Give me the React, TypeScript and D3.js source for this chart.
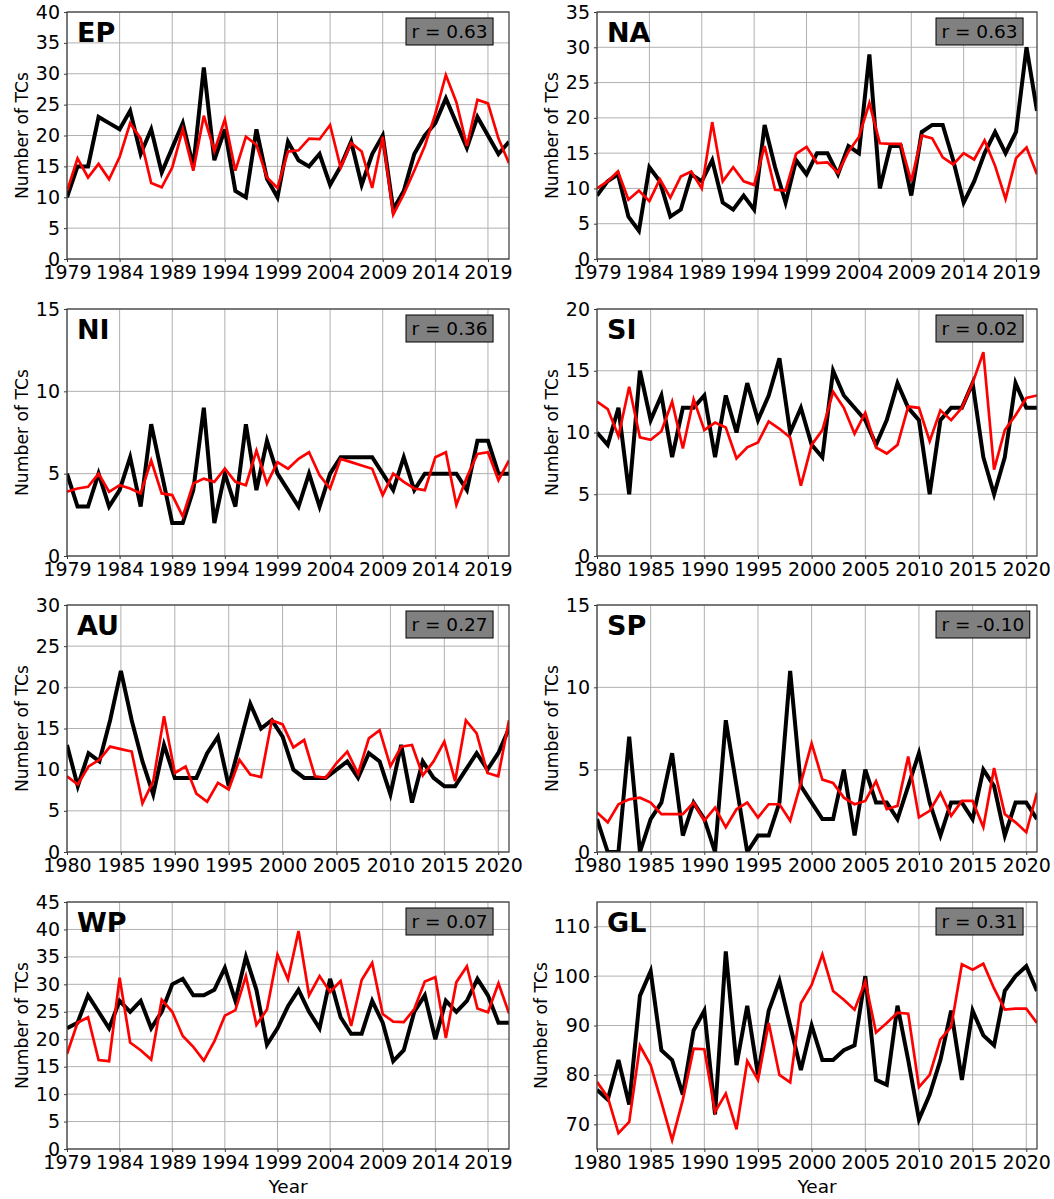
import React, { useEffect, useRef } from "react";
import * as d3 from "d3";

// observed (black) and modelled (red) TC counts per basin
const epObs = [10, 15, 15, 23, 22, 21, 24, 17, 21, 14, 18, 22, 15, 31, 16, 21, 11, 10, 21, 13, 10, 19, 16, 15, 17, 12, 15, 19, 12, 17, 20, 8, 11, 17, 20, 22, 26, 22, 18, 23, 20, 17, 19];
const epMod = [11, 16.3, 13.2, 15.4, 12.9, 16.5, 22, 19.5, 12.3, 11.6, 14.8, 21, 14.3, 23.2, 17.5, 22.6, 14.3, 19.8, 18.5, 13.2, 11.5, 17.4, 17.6, 19.5, 19.4, 21.7, 14.8, 18.8, 17.4, 11.5, 19.8, 7.2, 10.5, 14.3, 18.3, 23.5, 29.8, 25.4, 18.3, 25.8, 25.2, 19.5, 15.5];

const naObs = [9, 11, 12, 6, 4, 13, 11, 6, 7, 12, 11, 14, 8, 7, 9, 7, 19, 13, 8, 14, 12, 15, 15, 12, 16, 15, 29, 10, 16, 16, 9, 18, 19, 19, 14, 8, 11, 15, 18, 15, 18, 30, 21];
const naMod = [10, 11, 12.4, 8.4, 9.7, 8.2, 11.3, 8.7, 11.7, 12.4, 10, 19.4, 11, 13, 11, 10.5, 16, 9.8, 9.7, 14.9, 15.9, 13.6, 13.7, 12.2, 15.2, 17.3, 22.1, 16.4, 16.3, 16.3, 11, 17.5, 17.1, 14.4, 13.4, 15, 14.1, 16.8, 13.2, 8.5, 14.3, 15.8, 12];

const niObs = [5, 3, 3, 5, 3, 4, 6, 3, 8, 5, 2, 2, 4, 9, 2, 5, 3, 8, 4, 7, 5, 4, 3, 5, 3, 5, 6, 6, 6, 6, 5, 4, 6, 4, 5, 5, 5, 5, 4, 7, 7, 5, 5];
const niMod = [3.9, 4.1, 4.2, 5, 3.9, 4.3, 4.1, 3.8, 5.8, 3.8, 3.7, 2.4, 4.4, 4.7, 4.5, 5.3, 4.5, 4.3, 6.4, 4.4, 5.7, 5.3, 5.9, 6.3, 4.9, 4.1, 5.9, 5.7, 5.5, 5.3, 3.7, 5, 4.5, 4.1, 4, 6, 6.3, 3.1, 4.8, 6.2, 6.3, 4.6, 5.8];

const siObs = [10, 9, 12, 5, 15, 11, 13, 8, 12, 12, 13, 8, 13, 10, 14, 11, 13, 16, 10, 12, 9, 8, 15, 13, 12, 11, 9, 11, 14, 12, 11, 5, 11, 12, 12, 14, 8, 5, 8, 14, 12, 12];
const siMod = [12.5, 11.9, 9.7, 13.7, 9.6, 9.4, 10.1, 12.5, 8.7, 12.7, 10.2, 10.8, 10.4, 7.9, 8.8, 9.2, 10.9, 10.3, 9.6, 5.7, 9, 10.2, 13.3, 12, 9.9, 11.6, 8.8, 8.3, 9, 12.1, 12, 9.3, 11.8, 11, 12, 14, 16.5, 7, 10.2, 11.4, 12.8, 13];

const auObs = [13, 8, 12, 11, 16, 22, 16, 11, 7, 13, 9, 9, 9, 12, 14, 8, 13, 18, 15, 16, 14, 10, 9, 9, 9, 10, 11, 9, 12, 11, 7, 13, 6, 11, 9, 8, 8, 10, 12, 10, 12, 15];
const auMod = [9.2, 8.2, 10.4, 11.2, 12.8, 12.5, 12.2, 5.9, 8.6, 16.5, 9.6, 10.4, 7.1, 6.1, 8.4, 7.6, 11.2, 9.4, 9.1, 16, 15.5, 12.7, 13.6, 9.2, 9, 10.8, 12.2, 9.5, 13.8, 14.8, 10.4, 12.8, 13, 9.3, 11, 13.4, 8.6, 16, 14.4, 9.6, 9.2, 16];

const spObs = [2, 0, 0, 7, 0, 2, 3, 6, 1, 3, 2, 0, 8, 4, 0, 1, 1, 3, 11, 4, 3, 2, 2, 5, 1, 5, 3, 3, 2, 4, 6, 3, 1, 3, 3, 2, 5, 4, 1, 3, 3, 2];
const spMod = [2.4, 1.8, 2.9, 3.2, 3.3, 3, 2.3, 2.3, 2.3, 3, 1.9, 2.7, 1.5, 2.6, 3, 2.1, 2.9, 2.9, 1.9, 4.2, 6.6, 4.4, 4.2, 3.3, 2.9, 3.1, 4.3, 2.6, 2.8, 5.8, 2.1, 2.5, 3.6, 2.2, 3.1, 3.1, 1.5, 5.1, 2.3, 1.8, 1.2, 3.6];

const wpObs = [22, 23, 28, 25, 22, 27, 25, 27, 22, 25, 30, 31, 28, 28, 29, 33, 27, 35, 29, 19, 22, 26, 29, 25, 22, 31, 24, 21, 21, 27, 23, 16, 18, 25, 28, 20, 27, 25, 27, 31, 28, 23, 23];
const wpMod = [17.3, 23, 24, 16.2, 16, 31.2, 19.4, 18, 16.3, 27.2, 25, 20.6, 18.6, 16.1, 19.6, 24.3, 25.3, 31.5, 22.6, 25.4, 35.4, 30.9, 39.7, 28, 31.5, 28.6, 30.6, 22.4, 30.8, 33.9, 24.6, 23.2, 23.1, 25.5, 30.5, 31.3, 20.2, 30.4, 33.3, 25.6, 24.9, 30.2, 24.7];

const glObs = [77, 75, 83, 74, 96, 101, 85, 83, 76, 89, 93, 72, 105, 82, 94, 80, 93, 99, 90, 81, 90, 83, 83, 85, 86, 100, 79, 78, 94, 83, 71, 76, 83, 93, 79, 93, 88, 86, 97, 100, 102, 97];
const glMod = [78.6, 75.5, 68.2, 70.5, 85.9, 82, 74.5, 66.8, 75, 85.3, 85.2, 72.5, 76.2, 69, 82.8, 79, 90.5, 80, 78.5, 94.5, 98.2, 104.4, 97, 95.2, 93.2, 98.9, 88.6, 90.5, 92.6, 92.4, 77.5, 80, 87.2, 89.7, 102.4, 101.3, 102.5, 97.5, 93.2, 93.4, 93.4, 90.5];

const basinNames = ["EP", "NA", "NI", "SI", "AU", "SP", "WP", "GL"];
const corrLabels = ["r = 0.63", "r = 0.63", "r = 0.36", "r = 0.02", "r = 0.27", "r = -0.10", "r = 0.07", "r = 0.31"];
const startYears = [1979, 1979, 1979, 1980, 1980, 1980, 1979, 1980];
const yDomains: [number, number][] = [[0, 40], [0, 35], [0, 15], [0, 20], [0, 30], [0, 15], [0, 45], [65, 115]];
const yTickLists = [
  [0, 5, 10, 15, 20, 25, 30, 35, 40],
  [0, 5, 10, 15, 20, 25, 30, 35],
  [0, 5, 10, 15],
  [0, 5, 10, 15, 20],
  [0, 5, 10, 15, 20, 25, 30],
  [0, 5, 10, 15],
  [0, 5, 10, 15, 20, 25, 30, 35, 40, 45],
  [70, 80, 90, 100, 110],
];
const xTicks79 = [1979, 1984, 1989, 1994, 1999, 2004, 2009, 2014, 2019];
const xTicks80 = [1980, 1985, 1990, 1995, 2000, 2005, 2010, 2015, 2020];
const obsSeries = [epObs, naObs, niObs, siObs, auObs, spObs, wpObs, glObs];
const modSeries = [epMod, naMod, niMod, siMod, auMod, spMod, wpMod, glMod];

const FONT = "DejaVu Sans, sans-serif";

const App = () => {
  const ref = useRef<SVGSVGElement>(null);

  useEffect(() => {
    const svg = d3.select(ref.current);
    svg.selectAll("*").remove();

    const colX = [67, 597];
    const colW = [442, 440];
    const rowY = [12, 309, 605, 902];
    const h = 247;

    basinNames.forEach((name, i) => {
      const col = i % 2;
      const row = Math.floor(i / 2);
      const w = colW[col];
      const start = startYears[i];
      const years = d3.range(start, start + obsSeries[i].length);

      const x = d3.scaleLinear().domain([start, 2021]).range([0, w]);
      const y = d3.scaleLinear().domain(yDomains[i]).range([h, 0]);

      const g = svg.append("g").attr("transform", `translate(${colX[col]},${rowY[row]})`);

      const clipId = `clip-${name}`;
      g.append("clipPath").attr("id", clipId).append("rect").attr("width", w).attr("height", h);

      const xTicks = start === 1979 ? xTicks79 : xTicks80;

      // grid
      g.append("g")
        .selectAll("line")
        .data(xTicks)
        .join("line")
        .attr("x1", (d) => x(d))
        .attr("x2", (d) => x(d))
        .attr("y1", 0)
        .attr("y2", h)
        .attr("stroke", "#b0b0b0")
        .attr("stroke-width", 1);
      g.append("g")
        .selectAll("line")
        .data(yTickLists[i])
        .join("line")
        .attr("x1", 0)
        .attr("x2", w)
        .attr("y1", (d) => y(d))
        .attr("y2", (d) => y(d))
        .attr("stroke", "#b0b0b0")
        .attr("stroke-width", 1);

      const line = d3
        .line<number>()
        .x((_, k) => x(years[k]))
        .y((d) => y(d));

      const lines = g.append("g").attr("clip-path", `url(#${clipId})`);
      lines
        .append("path")
        .datum(obsSeries[i])
        .attr("fill", "none")
        .attr("stroke", "#000")
        .attr("stroke-width", 4)
        .attr("d", line);
      lines
        .append("path")
        .datum(modSeries[i])
        .attr("fill", "none")
        .attr("stroke", "#ff0000")
        .attr("stroke-width", 2.7)
        .attr("d", line);

      // frame
      g.append("rect")
        .attr("width", w)
        .attr("height", h)
        .attr("fill", "none")
        .attr("stroke", "#3a3a3a")
        .attr("stroke-width", 1.2);

      const yAxis = g
        .append("g")
        .call(d3.axisLeft(y).tickValues(yTickLists[i]).tickSize(3).tickPadding(4).tickFormat(d3.format("d")));
      const xAxis = g
        .append("g")
        .attr("transform", `translate(0,${h})`)
        .call(d3.axisBottom(x).tickValues(xTicks).tickSize(3).tickPadding(4).tickFormat(d3.format("d")));
      [yAxis, xAxis].forEach((ax) => {
        ax.select(".domain").remove();
        ax.selectAll(".tick line").attr("stroke", "#3a3a3a");
        ax.selectAll(".tick text").attr("font-family", FONT).attr("font-size", 19).attr("fill", "#000");
      });

      // y label
      const labelOffset = i === 7 ? -50 : -39;
      g.append("text")
        .attr("transform", `translate(${labelOffset},${h / 2}) rotate(-90)`)
        .attr("text-anchor", "middle")
        .attr("font-family", FONT)
        .attr("font-size", 17.2)
        .text("Number of TCs");

      // basin name
      g.append("text")
        .attr("x", 10)
        .attr("y", 30)
        .attr("font-family", FONT)
        .attr("font-weight", "bold")
        .attr("font-size", 27)
        .text(name);

      // correlation box
      const box = g.append("g").attr("transform", `translate(339,6)`);
      const txt = box
        .append("text")
        .attr("x", 5.5)
        .attr("y", 19.5)
        .attr("font-family", FONT)
        .attr("font-size", 18.5)
        .attr("fill", "#000")
        .text(corrLabels[i]);
      const tw = (txt.node() as SVGTextElement).getComputedTextLength();
      box
        .insert("rect", "text")
        .attr("width", tw + 11)
        .attr("height", 27)
        .attr("fill", "#808080")
        .attr("stroke", "#000")
        .attr("stroke-width", 1);

      if (row === 3) {
        g.append("text")
          .attr("x", w / 2)
          .attr("y", h + 44)
          .attr("text-anchor", "middle")
          .attr("font-family", FONT)
          .attr("font-size", 18.5)
          .text("Year");
      }
    });
  });

  return (
    <svg
      ref={ref}
      width={1054}
      height={1199}
      style={{ position: "absolute", left: 0, top: 0, background: "#fff" }}
    />
  );
};

export default App;
